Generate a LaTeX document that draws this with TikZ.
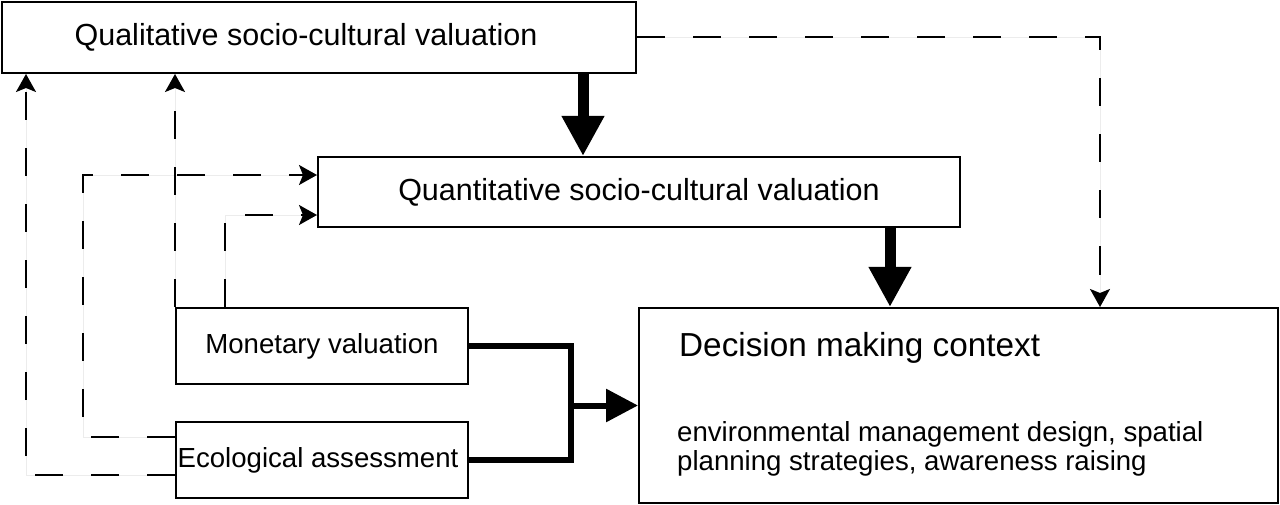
\documentclass[tikz,border=0pt]{standalone}
\usepackage{fontspec}
\setmainfont{Liberation Sans}
\usetikzlibrary{arrows.meta,positioning}
\tikzset{
    valbox/.style={
        draw,
        line width=2pt,
        inner sep=0,
        font=\fontsize{27.6}{33}\selectfont,
    },
    bigbox/.style={
        valbox,
        font=\fontsize{30.5}{36}\selectfont,
    },
    feed/.style={
        preaction={draw, gray!15, line width=0.8pt, solid, -},
        line width=2pt,
        dash pattern=on 28pt off 28pt,
        -{Stealth[length=18pt,width=20pt,inset=4pt]},
    },
    flow/.style={
        line width=11pt,
        -{Triangle[length=40pt,width=40pt]},
    },
    merge/.style={
        line width=6pt,
    },
}

\begin{document}
\begin{tikzpicture}[x=1pt,y=-1pt]
    \useasboundingbox (0,0) rectangle (1280,505);

    \node[bigbox, minimum width=634pt, minimum height=71pt] (qual) at (319,37.5) {Qualitative socio-cultural valuation\kern26pt};
    \node[bigbox, minimum width=642pt, minimum height=70pt] (quant) at (639,192) {Quantitative socio-cultural valuation};
    \node[valbox, minimum width=292pt, minimum height=76pt] (mon) at (322,346) {Monetary valuation};
    \node[valbox, minimum width=292pt, minimum height=76pt] (eco) at (322,460) {Ecological assessment\kern8pt};
    \node[valbox, minimum width=639pt, minimum height=195pt] (dec) at (958.5,405.5) {};
    \node[anchor=base west, inner sep=0, font=\fontsize{33.3}{40}\selectfont] (dectitle) at (679,356) {Decision making context};
    \node[anchor=north west, inner sep=0, align=left, font=\fontsize{27.6}{29}\selectfont] (decbody) at (677,421)
        {environmental management design, spatial\\planning strategies, awareness raising};

    % main flow
    \draw[flow] ([xshift=264pt]qual.south) -- ([xshift=-56pt]quant.north);
    \draw[flow] ([xshift=251pt]quant.south) -- ([xshift=-68.5pt]dec.north);
    \draw[merge] (mon.east) -- ++(102,0) coordinate (jtop) |- (eco.east);
    \draw[merge, -{Triangle[length=32pt,width=32pt]}] (jtop |- dec.west) -- (dec.west);

    % feedback
    \draw[feed] (qual.east) -| ([xshift=141.5pt]dec.north);
    \draw[feed] ([yshift=-15pt]eco.west) -| ([xshift=-293pt]qual.south);
    \draw[feed] ([yshift=23pt]eco.west) -- ++(-92,0) |- ([yshift=17pt]quant.west);
    \draw[feed] (mon.north west) -- (mon.north west |- qual.south);
    \draw[feed] ([xshift=50pt]mon.north west) |- ([yshift=-23pt]quant.west);
\end{tikzpicture}
\end{document}
